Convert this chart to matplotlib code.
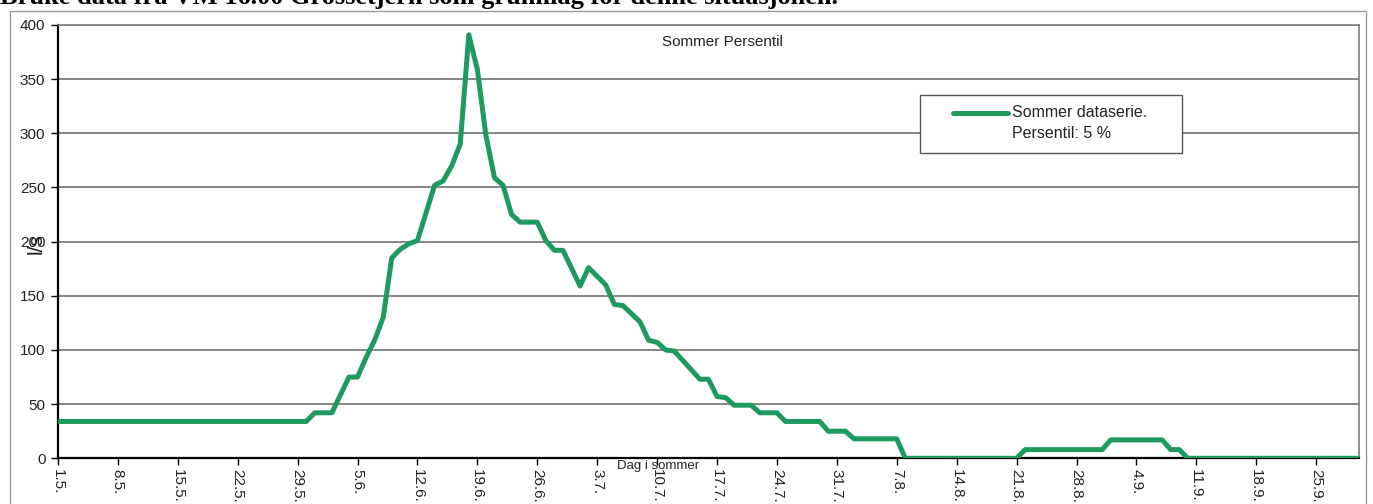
import matplotlib.pyplot as plt
from matplotlib.patches import Rectangle

# summer flow series (5 % percentile), day 0 = 1 May
days = [0, 29, 30, 32, 34, 35, 36, 37, 38, 39, 40, 41, 42, 44, 45, 46, 47, 48, 49, 50,
        51, 52, 53, 54, 56, 57, 58, 59, 61, 62, 64, 65, 66, 68, 69, 70, 71, 72, 75, 76,
        77, 78, 79, 81, 82, 84, 85, 89, 90, 92, 93, 98, 99, 112, 113, 122, 123, 129, 130, 131,
        132, 152]
flow = [34, 34, 42, 42, 75, 75, 93, 109, 130, 185, 193, 198, 201, 252, 256, 270, 290, 391, 359, 298,
        259, 252, 225, 218, 218, 201, 192, 192, 159, 176, 160, 142, 141, 126, 109, 107, 100, 99, 73, 73,
        57, 56, 49, 49, 42, 42, 34, 34, 25, 25, 18, 18, 0, 0, 8, 8, 17, 17, 8, 8,
        0, 0]

tick_days = [0, 7, 14, 21, 28, 35, 42, 49, 56, 63, 70, 77, 84, 91, 98, 105, 112, 119, 126, 133, 140, 147]
tick_labels = ['1.5.', '8.5.', '15.5.', '22.5.', '29.5.', '5.6.', '12.6.', '19.6.', '26.6.', '3.7.',
               '10.7.', '17.7.', '24.7.', '31.7.', '7.8.', '14.8.', '21.8.', '28.8.', '4.9.', '11.9.',
               '18.9.', '25.9.']
y_ticks = [0, 50, 100, 150, 200, 250, 300, 350, 400]

green = '#1f9a5f'
grid_col = '#7d7d7d'
txt_col = '#222222'

plt.rcParams['font.family'] = ['Liberation Sans', 'DejaVu Sans']

fig = plt.figure(figsize=(13.73, 5.04), dpi=100)
ax = fig.add_axes([0.0422, 0.0907, 0.9476, 0.8597])

ax.plot(days, flow, color=green, lw=3.6, solid_joinstyle='round', solid_capstyle='round', zorder=3)

ax.set_xlim(0, 152)
ax.set_ylim(0, 400)
ax.set_yticks(y_ticks)
ax.set_xticks(tick_days)
ax.set_xticklabels(tick_labels, rotation=-90, fontsize=11, color=txt_col)
ax.set_yticklabels([str(v) for v in y_ticks], fontsize=11, color=txt_col)
ax.tick_params(axis='x', direction='out', length=5, width=1, pad=3)
ax.tick_params(axis='y', direction='out', length=5, width=1, pad=4)

ax.yaxis.grid(True, color=grid_col, lw=1.3)
ax.set_axisbelow(True)
for side in ['top', 'right']:
    ax.spines[side].set_color(grid_col)
    ax.spines[side].set_linewidth(1.2)
for side in ['left', 'bottom']:
    ax.spines[side].set_color('black')
    ax.spines[side].set_linewidth(1.6)

# titles
ax.text(0.5104, 0.961, 'Sommer Persentil', transform=ax.transAxes, ha='center', va='center',
        fontsize=11, color=txt_col)
ax.text(0.461, -0.018, 'Dag i sommer', transform=ax.transAxes, ha='center', va='center',
        fontsize=9.5, color=txt_col)
ax.text(-0.0165, 0.4946, 'l/s', transform=ax.transAxes, rotation=90, ha='center', va='center',
        fontsize=15, color=txt_col)

# legend box
ax.add_patch(Rectangle((0.6626, 0.7046), 0.2014, 0.1339, transform=ax.transAxes,
                       facecolor='white', edgecolor='#555555', lw=1, zorder=4))
ax.plot([0.688, 0.730], [0.797, 0.797], transform=ax.transAxes, color=green, lw=3.6,
        solid_capstyle='round', zorder=5)
ax.text(0.7333, 0.797, 'Sommer dataserie.', transform=ax.transAxes, va='center',
        fontsize=11.5, color=txt_col, zorder=5)
ax.text(0.7333, 0.7507, 'Persentil: 5 %', transform=ax.transAxes, va='center',
        fontsize=11.5, color=txt_col, zorder=5)

# chart frame and the document line above it
fig.add_artist(Rectangle((0.0073, -0.01), 0.9876, 0.988, transform=fig.transFigure,
                         fill=False, edgecolor='#999999', lw=1))
fig.text(0.0, 0.992, 'Bruke data fra VM 16.00 Grossetjern som grunnlag for denne situasjonen.',
         family='Liberation Serif', fontsize=19, fontweight='bold', va='baseline', color='black')

fig.savefig('out.png', dpi=100)
